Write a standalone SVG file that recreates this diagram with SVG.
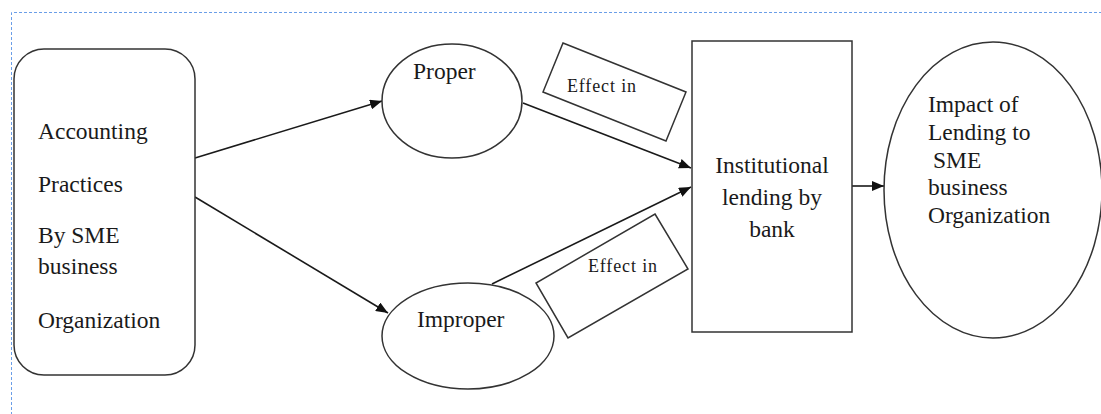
<svg xmlns="http://www.w3.org/2000/svg" width="1101" height="414" viewBox="0 0 1101 414">
  <style>
    .txt { font-family: "Liberation Serif", "Times New Roman", serif; font-size: 23.5px; fill: #1a1a1a; }
    .small { font-family: "Liberation Serif", "Times New Roman", serif; font-size: 18px; fill: #1a1a1a; }
    .shape { fill: #ffffff; stroke: #333333; stroke-width: 1.5; }
    .conn { fill: none; stroke: #1a1a1a; stroke-width: 1.6; }
  </style>
  <defs>
    <marker id="arrow" viewBox="0 0 12 10" refX="12" refY="5" markerWidth="12" markerHeight="10" markerUnits="userSpaceOnUse" orient="auto">
      <path d="M0,0 L12,5 L0,10 Z" fill="#111111"/>
    </marker>
  </defs>

  <rect width="1101" height="414" fill="#ffffff"/>

  <!-- canvas frame -->
  <path d="M11.5,420 L11.5,12.5 L1110,12.5" fill="none" stroke="#6a9ee8" stroke-width="1" stroke-dasharray="3,2"/>

  <!-- connectors -->
  <g id="connectors">
    <line class="conn" x1="195" y1="158" x2="382" y2="101" marker-end="url(#arrow)"/>
    <line class="conn" x1="195" y1="197" x2="388" y2="313" marker-end="url(#arrow)"/>
    <line class="conn" x1="523" y1="103" x2="691" y2="168" marker-end="url(#arrow)"/>
    <line class="conn" x1="492" y1="284" x2="691" y2="187" marker-end="url(#arrow)"/>
    <line class="conn" x1="852" y1="186" x2="884" y2="186" marker-end="url(#arrow)"/>
  </g>

  <g id="accounting-practices">
    <rect class="shape" x="14" y="49" width="181" height="326" rx="30" ry="30" stroke="#555555"/>
    <text class="txt" x="38" y="139">Accounting</text>
    <text class="txt" x="38" y="192">Practices</text>
    <text class="txt" x="38" y="243">By SME</text>
    <text class="txt" x="38" y="274">business</text>
    <text class="txt" x="38" y="328">Organization</text>
  </g>

  <g id="proper">
    <ellipse class="shape" cx="452" cy="101" rx="70" ry="57"/>
    <text class="txt" x="413" y="79">Proper</text>
  </g>

  <g id="improper">
    <ellipse class="shape" cx="468" cy="336" rx="86" ry="53"/>
    <text class="txt" x="417" y="327">Improper</text>
  </g>

  <g id="effect-upper">
    <polygon class="shape" points="563,43 686,92 666,141 543,92"/>
    <text class="small" x="567" y="92" textLength="69" lengthAdjust="spacing">Effect in</text>
  </g>

  <g id="effect-lower">
    <polygon class="shape" points="655,214 688,269 568,338 536,283"/>
    <text class="small" x="588" y="272" textLength="69" lengthAdjust="spacing">Effect in</text>
  </g>

  <g id="institutional-lending">
    <rect class="shape" x="692" y="41" width="160" height="291" stroke="#222222" stroke-width="2"/>
    <text class="txt" x="772" y="173" text-anchor="middle">Institutional</text>
    <text class="txt" x="772" y="205" text-anchor="middle">lending by</text>
    <text class="txt" x="772" y="237" text-anchor="middle">bank</text>
  </g>

  <g id="impact">
    <ellipse class="shape" cx="993" cy="190" rx="109" ry="148"/>
    <text class="txt" x="928" y="112">Impact of</text>
    <text class="txt" x="928" y="140">Lending to</text>
    <text class="txt" x="933" y="168">SME</text>
    <text class="txt" x="928" y="195">business</text>
    <text class="txt" x="928" y="223">Organization</text>
  </g>
</svg>
